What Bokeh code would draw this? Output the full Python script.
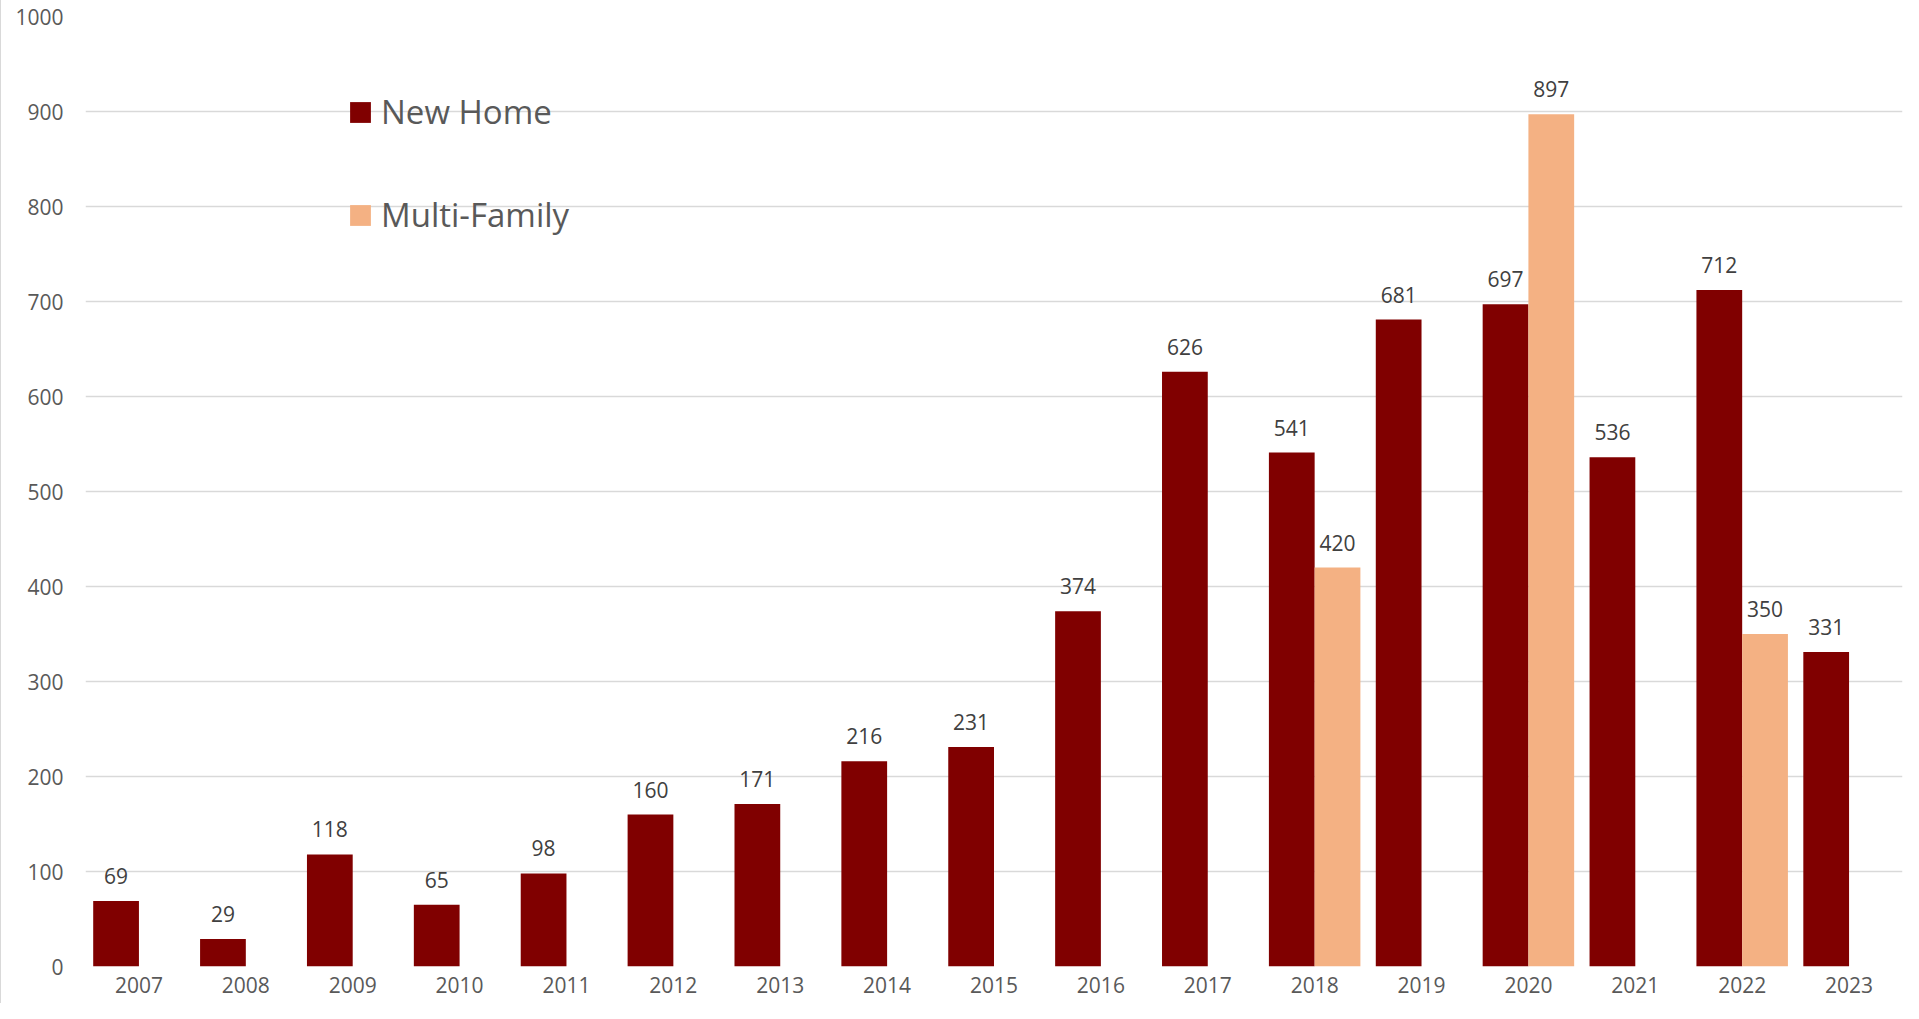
from bokeh.plotting import figure
from bokeh.models import ColumnDataSource, FactorRange, LabelSet, Legend, LegendItem
from bokeh.transform import dodge
from bokeh.core.properties import value
from bokeh.embed import file_html
from bokeh.resources import INLINE

years = ["2007", "2008", "2009", "2010", "2011", "2012", "2013", "2014", "2015",
         "2016", "2017", "2018", "2019", "2020", "2021", "2022", "2023"]
new_home = [69, 29, 118, 65, 98, 160, 171, 216, 231, 374, 626, 541, 681, 697, 536, 712, 331]
multi_years = ["2018", "2020", "2022"]
multi_family = [420, 897, 350]
y_ticks = [0, 100, 200, 300, 400, 500, 600, 700, 800, 900, 1000]

NEW_COLOR = "#800000"
MULTI_COLOR = "#F4B183"
FONT = "Open Sans"

src_new = ColumnDataSource(dict(year=years, value=new_home, label=[str(v) for v in new_home]))
src_multi = ColumnDataSource(dict(year=multi_years, value=multi_family, label=[str(v) for v in multi_family]))

p = figure(x_range=FactorRange(*years, range_padding=0), y_range=(0, 1000),
           width=1903, height=1003, output_backend="svg", toolbar_location=None,
           min_border_left=84, min_border_right=2, min_border_top=16, min_border_bottom=37)
p.styles = {"border-left": "1px solid #D9D9D9"}

bw = 0.428
off = bw / 2
r_new = p.vbar(x=dodge("year", -off, range=p.x_range), top="value", width=bw, source=src_new,
               fill_color=NEW_COLOR, line_color=None)
r_multi = p.vbar(x=dodge("year", off, range=p.x_range), top="value", width=bw, source=src_multi,
                 fill_color=MULTI_COLOR, line_color=None)

for src, o in ((src_new, -off), (src_multi, off)):
    lab = LabelSet(x=dodge("year", o, range=p.x_range), y="value", text="label", source=src,
                   text_align="center", text_baseline="alphabetic", y_offset=17,
                   text_font=value(FONT), text_font_size="21px", text_color="#404040")
    p.add_layout(lab)

p.outline_line_color = None
p.background_fill_color = "white"
p.border_fill_color = "white"
p.xgrid.grid_line_color = None
p.ygrid.grid_line_color = "#D9D9D9"
p.ygrid.grid_line_width = 1.5
p.yaxis.ticker = y_ticks

for ax in (p.xaxis, p.yaxis):
    ax.axis_line_color = None
    ax.major_tick_line_color = None
    ax.minor_tick_line_color = None
    ax.major_label_text_font = FONT
    ax.major_label_text_font_size = "21px"
    ax.major_label_text_color = "#595959"
p.xaxis.major_label_standoff = 4
p.yaxis.major_label_standoff = 16

legend = Legend(items=[LegendItem(label="New Home", renderers=[r_new]),
                       LegendItem(label="Multi-Family", renderers=[r_multi])],
                location=(262, 729), orientation="vertical",
                glyph_width=26, glyph_height=26, label_standoff=8,
                label_text_font=FONT, label_text_font_size="33px", label_text_color="#595959",
                label_height=26, spacing=58, padding=10, margin=0,
                border_line_color=None, background_fill_alpha=0)
p.add_layout(legend)

open("out.html", "w").write(file_html(p, INLINE))
